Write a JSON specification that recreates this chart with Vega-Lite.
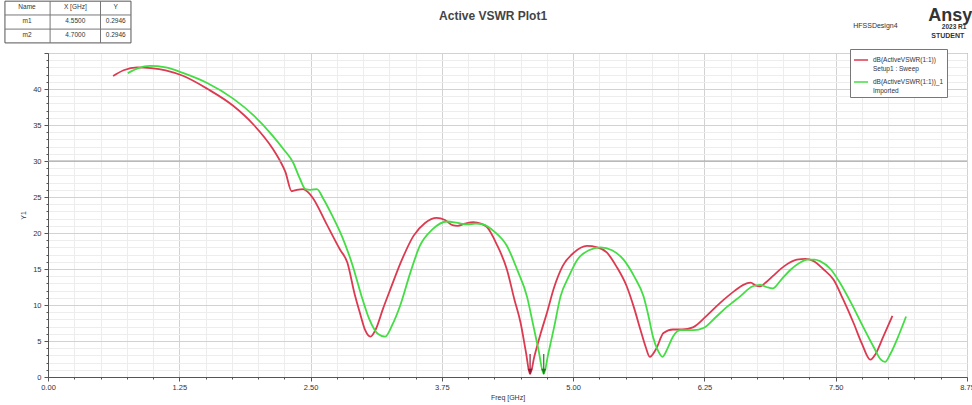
{
"$schema":"https://vega.github.io/schema/vega-lite/v6.json",
"width":919,"height":324,"autosize":"none",
"padding":{"left":48,"top":53,"right":5,"bottom":28},
"background":"white",
"config":{"font":"Liberation Sans","view":{"stroke":"#7a7a7a","strokeWidth":1}},
"datasets":{
"curves":[
{"series":"Setup1 : Sweep","freq":0.62,"y":41.8},{"series":"Setup1 : Sweep","freq":0.72,"y":42.6},{"series":"Setup1 : Sweep","freq":0.85,"y":43.0},{"series":"Setup1 : Sweep","freq":0.98,"y":42.9},{"series":"Setup1 : Sweep","freq":1.12,"y":42.6},{"series":"Setup1 : Sweep","freq":1.29,"y":41.8},{"series":"Setup1 : Sweep","freq":1.52,"y":40.0},{"series":"Setup1 : Sweep","freq":1.76,"y":37.7},{"series":"Setup1 : Sweep","freq":1.96,"y":35.0},{"series":"Setup1 : Sweep","freq":2.14,"y":31.7},{"series":"Setup1 : Sweep","freq":2.21,"y":30.0},{"series":"Setup1 : Sweep","freq":2.26,"y":28.5},{"series":"Setup1 : Sweep","freq":2.32,"y":25.8},{"series":"Setup1 : Sweep","freq":2.37,"y":26.0},{"series":"Setup1 : Sweep","freq":2.43,"y":26.1},{"series":"Setup1 : Sweep","freq":2.48,"y":25.6},{"series":"Setup1 : Sweep","freq":2.52,"y":24.9},{"series":"Setup1 : Sweep","freq":2.65,"y":21.3},{"series":"Setup1 : Sweep","freq":2.78,"y":17.7},{"series":"Setup1 : Sweep","freq":2.85,"y":15.9},{"series":"Setup1 : Sweep","freq":2.92,"y":11.5},{"series":"Setup1 : Sweep","freq":2.97,"y":8.9},{"series":"Setup1 : Sweep","freq":3.02,"y":6.5},{"series":"Setup1 : Sweep","freq":3.07,"y":5.6},{"series":"Setup1 : Sweep","freq":3.12,"y":6.6},{"series":"Setup1 : Sweep","freq":3.19,"y":9.5},{"series":"Setup1 : Sweep","freq":3.26,"y":12.2},{"series":"Setup1 : Sweep","freq":3.37,"y":16.3},{"series":"Setup1 : Sweep","freq":3.48,"y":19.6},{"series":"Setup1 : Sweep","freq":3.59,"y":21.4},{"series":"Setup1 : Sweep","freq":3.70,"y":22.1},{"series":"Setup1 : Sweep","freq":3.78,"y":21.8},{"series":"Setup1 : Sweep","freq":3.85,"y":21.1},{"series":"Setup1 : Sweep","freq":3.90,"y":21.0},{"series":"Setup1 : Sweep","freq":3.97,"y":21.3},{"series":"Setup1 : Sweep","freq":4.05,"y":21.5},{"series":"Setup1 : Sweep","freq":4.12,"y":21.3},{"series":"Setup1 : Sweep","freq":4.18,"y":20.8},{"series":"Setup1 : Sweep","freq":4.27,"y":18.5},{"series":"Setup1 : Sweep","freq":4.37,"y":14.9},{"series":"Setup1 : Sweep","freq":4.44,"y":10.8},{"series":"Setup1 : Sweep","freq":4.50,"y":7.5},{"series":"Setup1 : Sweep","freq":4.55,"y":3.5},{"series":"Setup1 : Sweep","freq":4.59,"y":0.4},{"series":"Setup1 : Sweep","freq":4.63,"y":2.8},{"series":"Setup1 : Sweep","freq":4.69,"y":6.0},{"series":"Setup1 : Sweep","freq":4.75,"y":8.9},{"series":"Setup1 : Sweep","freq":4.82,"y":12.5},{"series":"Setup1 : Sweep","freq":4.90,"y":15.4},{"series":"Setup1 : Sweep","freq":5.01,"y":17.3},{"series":"Setup1 : Sweep","freq":5.13,"y":18.2},{"series":"Setup1 : Sweep","freq":5.23,"y":18.0},{"series":"Setup1 : Sweep","freq":5.32,"y":17.3},{"series":"Setup1 : Sweep","freq":5.41,"y":15.4},{"series":"Setup1 : Sweep","freq":5.51,"y":12.6},{"series":"Setup1 : Sweep","freq":5.58,"y":9.6},{"series":"Setup1 : Sweep","freq":5.64,"y":6.6},{"series":"Setup1 : Sweep","freq":5.69,"y":4.2},{"series":"Setup1 : Sweep","freq":5.73,"y":2.8},{"series":"Setup1 : Sweep","freq":5.79,"y":3.9},{"series":"Setup1 : Sweep","freq":5.86,"y":6.1},{"series":"Setup1 : Sweep","freq":5.95,"y":6.6},{"series":"Setup1 : Sweep","freq":6.04,"y":6.6},{"series":"Setup1 : Sweep","freq":6.14,"y":6.9},{"series":"Setup1 : Sweep","freq":6.27,"y":8.5},{"series":"Setup1 : Sweep","freq":6.40,"y":10.3},{"series":"Setup1 : Sweep","freq":6.54,"y":12.0},{"series":"Setup1 : Sweep","freq":6.62,"y":12.8},{"series":"Setup1 : Sweep","freq":6.69,"y":13.1},{"series":"Setup1 : Sweep","freq":6.74,"y":12.7},{"series":"Setup1 : Sweep","freq":6.78,"y":12.6},{"series":"Setup1 : Sweep","freq":6.84,"y":13.2},{"series":"Setup1 : Sweep","freq":6.90,"y":14.0},{"series":"Setup1 : Sweep","freq":7.01,"y":15.4},{"series":"Setup1 : Sweep","freq":7.13,"y":16.3},{"series":"Setup1 : Sweep","freq":7.21,"y":16.4},{"series":"Setup1 : Sweep","freq":7.29,"y":16.1},{"series":"Setup1 : Sweep","freq":7.38,"y":15.0},{"series":"Setup1 : Sweep","freq":7.48,"y":13.5},{"series":"Setup1 : Sweep","freq":7.57,"y":10.8},{"series":"Setup1 : Sweep","freq":7.67,"y":7.5},{"series":"Setup1 : Sweep","freq":7.75,"y":4.6},{"series":"Setup1 : Sweep","freq":7.83,"y":2.4},{"series":"Setup1 : Sweep","freq":7.88,"y":3.2},{"series":"Setup1 : Sweep","freq":7.95,"y":5.5},{"series":"Setup1 : Sweep","freq":8.04,"y":8.5},
{"series":"Imported","freq":0.76,"y":42.2},{"series":"Imported","freq":0.86,"y":42.9},{"series":"Imported","freq":0.97,"y":43.2},{"series":"Imported","freq":1.12,"y":43.0},{"series":"Imported","freq":1.29,"y":42.2},{"series":"Imported","freq":1.52,"y":40.8},{"series":"Imported","freq":1.76,"y":38.7},{"series":"Imported","freq":1.96,"y":36.3},{"series":"Imported","freq":2.14,"y":33.5},{"series":"Imported","freq":2.25,"y":31.5},{"series":"Imported","freq":2.33,"y":29.9},{"series":"Imported","freq":2.40,"y":27.5},{"series":"Imported","freq":2.45,"y":26.1},{"series":"Imported","freq":2.50,"y":26.0},{"series":"Imported","freq":2.56,"y":26.1},{"series":"Imported","freq":2.62,"y":24.8},{"series":"Imported","freq":2.71,"y":22.3},{"series":"Imported","freq":2.80,"y":19.5},{"series":"Imported","freq":2.90,"y":15.5},{"series":"Imported","freq":2.98,"y":11.5},{"series":"Imported","freq":3.06,"y":8.0},{"series":"Imported","freq":3.14,"y":6.0},{"series":"Imported","freq":3.21,"y":5.6},{"series":"Imported","freq":3.28,"y":7.3},{"series":"Imported","freq":3.35,"y":9.8},{"series":"Imported","freq":3.45,"y":14.5},{"series":"Imported","freq":3.54,"y":18.2},{"series":"Imported","freq":3.66,"y":20.5},{"series":"Imported","freq":3.80,"y":21.6},{"series":"Imported","freq":3.90,"y":21.4},{"series":"Imported","freq":3.99,"y":21.2},{"series":"Imported","freq":4.07,"y":21.3},{"series":"Imported","freq":4.14,"y":21.2},{"series":"Imported","freq":4.25,"y":20.2},{"series":"Imported","freq":4.37,"y":18.2},{"series":"Imported","freq":4.47,"y":14.8},{"series":"Imported","freq":4.56,"y":11.2},{"series":"Imported","freq":4.62,"y":7.2},{"series":"Imported","freq":4.67,"y":3.8},{"series":"Imported","freq":4.72,"y":0.4},{"series":"Imported","freq":4.76,"y":3.0},{"series":"Imported","freq":4.82,"y":7.0},{"series":"Imported","freq":4.88,"y":11.2},{"series":"Imported","freq":4.96,"y":14.0},{"series":"Imported","freq":5.04,"y":16.3},{"series":"Imported","freq":5.15,"y":17.6},{"series":"Imported","freq":5.26,"y":18.0},{"series":"Imported","freq":5.37,"y":17.6},{"series":"Imported","freq":5.48,"y":16.3},{"series":"Imported","freq":5.58,"y":14.0},{"series":"Imported","freq":5.67,"y":11.2},{"series":"Imported","freq":5.72,"y":8.3},{"series":"Imported","freq":5.76,"y":5.6},{"series":"Imported","freq":5.81,"y":3.6},{"series":"Imported","freq":5.85,"y":2.8},{"series":"Imported","freq":5.90,"y":4.0},{"series":"Imported","freq":5.95,"y":5.6},{"series":"Imported","freq":6.02,"y":6.5},{"series":"Imported","freq":6.15,"y":6.5},{"series":"Imported","freq":6.24,"y":6.8},{"series":"Imported","freq":6.35,"y":8.2},{"series":"Imported","freq":6.47,"y":9.8},{"series":"Imported","freq":6.59,"y":11.2},{"series":"Imported","freq":6.71,"y":12.6},{"series":"Imported","freq":6.78,"y":12.8},{"series":"Imported","freq":6.84,"y":12.5},{"series":"Imported","freq":6.90,"y":12.3},{"series":"Imported","freq":6.98,"y":13.5},{"series":"Imported","freq":7.07,"y":14.9},{"series":"Imported","freq":7.15,"y":15.8},{"series":"Imported","freq":7.23,"y":16.3},{"series":"Imported","freq":7.30,"y":16.3},{"series":"Imported","freq":7.35,"y":16.1},{"series":"Imported","freq":7.45,"y":15.0},{"series":"Imported","freq":7.54,"y":13.1},{"series":"Imported","freq":7.65,"y":10.2},{"series":"Imported","freq":7.76,"y":7.0},{"series":"Imported","freq":7.86,"y":4.2},{"series":"Imported","freq":7.93,"y":2.4},{"series":"Imported","freq":7.97,"y":2.1},{"series":"Imported","freq":8.02,"y":3.2},{"series":"Imported","freq":8.10,"y":5.8},{"series":"Imported","freq":8.17,"y":8.4}
],
"markers":[{"name":"m1","freq":4.59,"y":0.4},{"name":"m2","freq":4.72,"y":0.4}]
},
"layer":[
{"data":{"name":"curves"},"mark":{"type":"line","interpolate":"monotone","strokeWidth":1.8},
"encoding":{
"x":{"field":"freq","type":"quantitative","scale":{"domain":[0,8.75],"nice":false,"zero":false},
"axis":{"orient":"bottom","values":[0,0.25,0.5,0.75,1,1.25,1.5,1.75,2,2.25,2.5,2.75,3,3.25,3.5,3.75,4,4.25,4.5,4.75,5,5.25,5.5,5.75,6,6.25,6.5,6.75,7,7.25,7.5,7.75,8,8.25,8.5,8.75],
"title":"Freq [GHz]","titleFontSize":7,"titleFontWeight":"normal","titleColor":"#333","titlePadding":3,
"labelFontSize":7.5,"labelColor":"#333","labelPadding":2,"labelOverlap":false,"labelFlush":false,
"labelExpr":"abs(datum.value/1.25-round(datum.value/1.25))<0.001 ? format(datum.value,'.2f') : ''",
"grid":true,"gridColor":{"condition":{"test":"abs(datum.value/1.25-round(datum.value/1.25))<0.001","value":"#d2d2d2"},"value":"#ededed"},
"tickColor":"#555","tickSize":{"condition":{"test":"abs(datum.value/1.25-round(datum.value/1.25))<0.001","value":4},"value":2},"domainColor":"#555"}},
"y":{"field":"y","type":"quantitative","scale":{"domain":[0,45],"nice":false,"zero":false},
"axis":{"orient":"left","values":[0,1,2,3,4,5,6,7,8,9,10,11,12,13,14,15,16,17,18,19,20,21,22,23,24,25,26,27,28,29,30,31,32,33,34,35,36,37,38,39,40,41,42,43,44,45],
"title":"Y1","titleFontSize":7,"titleFontWeight":"normal","titleColor":"#333","titlePadding":6,
"labelFontSize":7.5,"labelColor":"#333","labelPadding":3,"labelOverlap":false,"labelFlush":false,
"labelExpr":"(datum.value % 5 == 0 && datum.value < 45) ? datum.value : ''",
"grid":true,"gridColor":{"condition":{"test":"datum.value % 5 == 0","value":"#d2d2d2"},"value":"#ededed"},
"tickColor":"#555","tickSize":{"condition":{"test":"datum.value % 5 == 0","value":4},"value":2},"domainColor":"#555"}},
"color":{"field":"series","type":"nominal","scale":{"domain":["Setup1 : Sweep","Imported"],"range":["#dc3a50","#44dd44"]},
"legend":{"orient":"none","legendX":802,"legendY":-4,"title":null,"fillColor":"white","strokeColor":"#777","padding":3,"labelFontSize":6.5,"labelColor":"#333",
"labelExpr":"datum.label == 'Imported' ? ['dB(ActiveVSWR(1:1))_1','Imported'] : ['dB(ActiveVSWR(1:1))','Setup1 : Sweep']",
"symbolType":"stroke","symbolStrokeWidth":1.5,"symbolSize":200,"rowPadding":2,"labelLimit":200}}}},
{"data":{"values":[{}]},"mark":{"type":"rule","color":"#a0a0a0","strokeWidth":1},"encoding":{"y":{"datum":30,"type":"quantitative","axis":null}}},
{"data":{"name":"markers"},"mark":{"type":"rule","strokeWidth":1.2},"encoding":{"x":{"field":"freq","type":"quantitative","axis":null},"y":{"field":"y","type":"quantitative","axis":null},"y2":{"datum":3.2},"color":{"field":"name","type":"nominal","scale":{"domain":["m1","m2"],"range":["#8e1b35","#1d7d1d"]},"legend":null}}},
{"data":{"name":"markers"},"mark":{"type":"point","shape":"triangle-down","filled":true,"size":28,"opacity":1,"yOffset":-3},"encoding":{"x":{"field":"freq","type":"quantitative","axis":null},"y":{"field":"y","type":"quantitative","axis":null},"color":{"field":"name","type":"nominal","scale":{"domain":["m1","m2"],"range":["#8e1b35","#1d7d1d"]},"legend":null}}},
{"data":{"values":[{}]},"mark":{"type":"rect","fill":"white","stroke":"#555","strokeWidth":1,"clip":false},"encoding":{"x":{"datum":-0.41,"type":"quantitative","axis":null},"x2":{"datum":0.79},"y":{"datum":52.2,"type":"quantitative","axis":null},"y2":{"datum":46.4}}},
{"data":{"values":[{}]},"mark":{"type":"rule","color":"#777","strokeWidth":1,"clip":false},"encoding":{"x":{"datum":0.02,"type":"quantitative","axis":null},"y":{"datum":52.2,"type":"quantitative","axis":null},"y2":{"datum":46.4}}},
{"data":{"values":[{}]},"mark":{"type":"rule","color":"#777","strokeWidth":1,"clip":false},"encoding":{"x":{"datum":0.5,"type":"quantitative","axis":null},"y":{"datum":52.2,"type":"quantitative","axis":null},"y2":{"datum":46.4}}},
{"data":{"values":[{}]},"mark":{"type":"rule","color":"#777","strokeWidth":1,"clip":false},"encoding":{"x":{"datum":-0.41,"type":"quantitative","axis":null},"x2":{"datum":0.79},"y":{"datum":50.28,"type":"quantitative","axis":null}}},
{"data":{"values":[{}]},"mark":{"type":"rule","color":"#777","strokeWidth":1,"clip":false},"encoding":{"x":{"datum":-0.41,"type":"quantitative","axis":null},"x2":{"datum":0.79},"y":{"datum":48.32,"type":"quantitative","axis":null}}},
{"data":{"values":[{}]},"mark":{"type":"text","fontSize":6.5,"align":"center","baseline":"top","lineHeight":14,"color":"#333","clip":false,"text":["Name","m1","m2"]},"encoding":{"x":{"datum":-0.2,"type":"quantitative","axis":null},"y":{"datum":51.85,"type":"quantitative","axis":null}}},
{"data":{"values":[{}]},"mark":{"type":"text","fontSize":6.5,"align":"center","baseline":"top","lineHeight":14,"color":"#333","clip":false,"text":["X [GHz]","4.5500","4.7000"]},"encoding":{"x":{"datum":0.26,"type":"quantitative","axis":null},"y":{"datum":51.85,"type":"quantitative","axis":null}}},
{"data":{"values":[{}]},"mark":{"type":"text","fontSize":6.5,"align":"center","baseline":"top","lineHeight":14,"color":"#333","clip":false,"text":["Y","0.2946","0.2946"]},"encoding":{"x":{"datum":0.645,"type":"quantitative","axis":null},"y":{"datum":51.85,"type":"quantitative","axis":null}}},
{"data":{"values":[{}]},"mark":{"type":"text","fontSize":12,"fontWeight":"bold","align":"center","baseline":"middle","color":"#444","clip":false,"text":"Active VSWR Plot1"},"encoding":{"x":{"datum":4.238,"type":"quantitative","axis":null},"y":{"datum":50.14,"type":"quantitative","axis":null}}},
{"data":{"values":[{}]},"mark":{"type":"text","fontSize":7,"align":"left","baseline":"middle","color":"#333","clip":false,"text":"HFSSDesign4"},"encoding":{"x":{"datum":7.667,"type":"quantitative","axis":null},"y":{"datum":48.74,"type":"quantitative","axis":null}}},
{"data":{"values":[{}]},"mark":{"type":"text","fontSize":18,"fontWeight":"bold","align":"left","baseline":"middle","color":"#333","clip":false,"text":"Ansys"},"encoding":{"x":{"datum":8.38,"type":"quantitative","axis":null},"y":{"datum":50.14,"type":"quantitative","axis":null}}},
{"data":{"values":[{}]},"mark":{"type":"text","fontSize":6.5,"fontWeight":"bold","align":"left","baseline":"middle","color":"#333","clip":false,"text":"2023 R1"},"encoding":{"x":{"datum":8.51,"type":"quantitative","axis":null},"y":{"datum":48.6,"type":"quantitative","axis":null}}},
{"data":{"values":[{}]},"mark":{"type":"text","fontSize":7,"fontWeight":"bold","align":"left","baseline":"middle","color":"#333","clip":false,"text":"STUDENT"},"encoding":{"x":{"datum":8.41,"type":"quantitative","axis":null},"y":{"datum":47.35,"type":"quantitative","axis":null}}}
],
"resolve":{"scale":{"color":"independent"},"axis":{"x":"independent","y":"independent"}}
}
